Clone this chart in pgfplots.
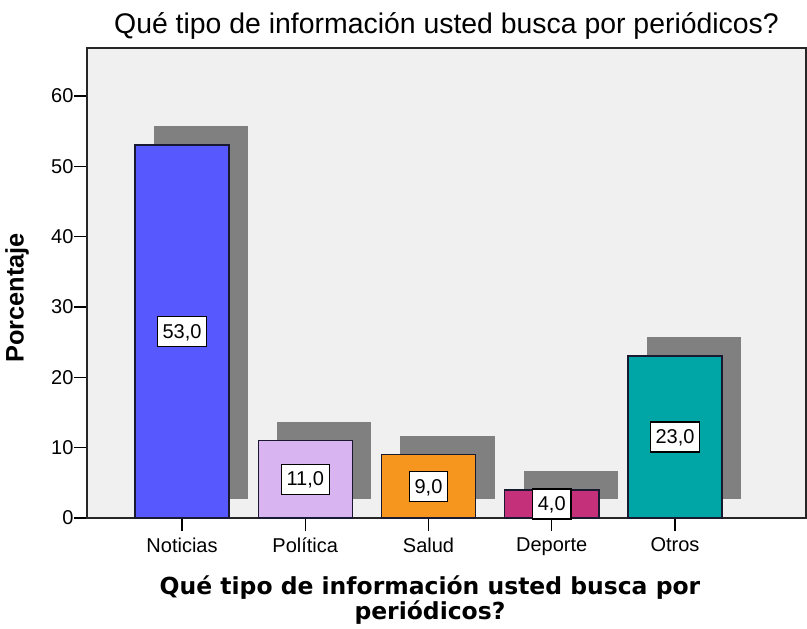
\documentclass[border=0pt]{standalone}
\usepackage{fontspec}
\setmainfont{Liberation Sans}
\newfontfamily\dejavu{DejaVu Sans}
\usepackage{pgfplots}
\pgfplotsset{compat=1.18}
\usetikzlibrary{calc}
\definecolor{plotbg}{RGB}{240,240,240}
\definecolor{shadowgray}{RGB}{128,128,128}
\definecolor{outline}{RGB}{25,25,50}
\definecolor{cNot}{RGB}{88,88,255}
\definecolor{cPol}{RGB}{216,180,240}
\definecolor{cSal}{RGB}{247,150,30}
\definecolor{cDep}{RGB}{196,48,122}
\definecolor{cOtr}{RGB}{0,166,166}
\begin{document}
\begin{tikzpicture}
\begin{axis}[
  scale only axis,
  width=539.25pt, height=352.5pt,
  xmin=-0.771, xmax=5.063,
  ymin=0, ymax=66.8,
  clip=false,
  axis background/.style={fill=plotbg},
  axis line style={black!85, line width=1pt},
  xtick={0,1,2,3,4},
  xticklabels={Noticias,Política,Salud,Deporte,Otros},
  ytick={0,10,20,30,40,50,60},
  tick align=outside,
  xtick pos=bottom, ytick pos=left,
  major tick length=9.5pt,
  tick style={black, line width=1pt},
  /pgf/number format/assume math mode=true,
  ticklabel style={font=\fontsize{15}{18}\selectfont},
  yticklabel style={inner sep=0.5pt},
  xticklabel style={inner sep=0pt, yshift=-5pt},
  title={Qué tipo de información usted busca por periódicos?},
  title style={at={(axis description cs:0.5,1)}, anchor=base, yshift=4.5pt,
    font=\fontsize{21.3}{24}\selectfont, inner sep=0pt},
  xlabel={Qué tipo de información usted busca por\\periódicos?},
  xlabel style={at={(axis description cs:0.477,0)}, anchor=north, yshift=-43pt,
    inner sep=0pt, align=center, font=\dejavu\bfseries\fontsize{17.6}{18.5}\selectfont},
  ylabel={Porcentaje},
  ylabel style={at={(axis description cs:-0.0974,0.468)}, anchor=center, rotate=0,
    inner sep=0pt, font=\bfseries\fontsize{19}{22}\selectfont},
]
\coordinate (sw) at (rel axis cs:0,0);
\coordinate (ne) at (rel axis cs:1,1);
% shadows
\addplot[fill=shadowgray, draw=none] coordinates {(-0.2275,2.7) (0.5355,2.7) (0.5355,55.7) (-0.2275,55.7)};
\addplot[fill=shadowgray, draw=none] coordinates {(0.7725,2.7) (1.5355,2.7) (1.5355,13.7) (0.7725,13.7)};
\addplot[fill=shadowgray, draw=none] coordinates {(1.7725,2.7) (2.5355,2.7) (2.5355,11.7) (1.7725,11.7)};
\addplot[fill=shadowgray, draw=none] coordinates {(2.7725,2.7) (3.5355,2.7) (3.5355,6.7) (2.7725,6.7)};
\addplot[fill=shadowgray, draw=none] coordinates {(3.7725,2.7) (4.5355,2.7) (4.5355,25.7) (3.7725,25.7)};
% bars
\addplot[ybar, bar width=0.763, bar shift=0pt, fill=cNot, draw=outline, line width=1.1pt] coordinates {(0,53)};
\addplot[ybar, bar width=0.763, bar shift=0pt, fill=cPol, draw=outline, line width=1.1pt] coordinates {(1,11)};
\addplot[ybar, bar width=0.763, bar shift=0pt, fill=cSal, draw=outline, line width=1.1pt] coordinates {(2,9)};
\addplot[ybar, bar width=0.763, bar shift=0pt, fill=cDep, draw=outline, line width=1.1pt] coordinates {(3,4)};
\addplot[ybar, bar width=0.763, bar shift=0pt, fill=cOtr, draw=outline, line width=1.1pt] coordinates {(4,23)};
% value labels
\addplot[draw=none, mark=none, point meta=explicit symbolic, nodes near coords,
  every node near coord/.append style={anchor=center, draw=black, line width=1pt, fill=white,
    font=\fontsize{15}{18}\selectfont, text height=11pt, text depth=1pt,
    inner xsep=4pt, inner ysep=5.25pt}]
  table[meta=label] {
x y label
0 26.5 53,0
1 5.5 11,0
2 4.5 9,0
3 2.0 4,0
4 11.5 23,0
};
\end{axis}
\pgfresetboundingbox
\path ([shift={(-65.25pt,-82.5pt)}]sw) rectangle ([shift={(0.75pt,36pt)}]ne);
\end{tikzpicture}
\end{document}
